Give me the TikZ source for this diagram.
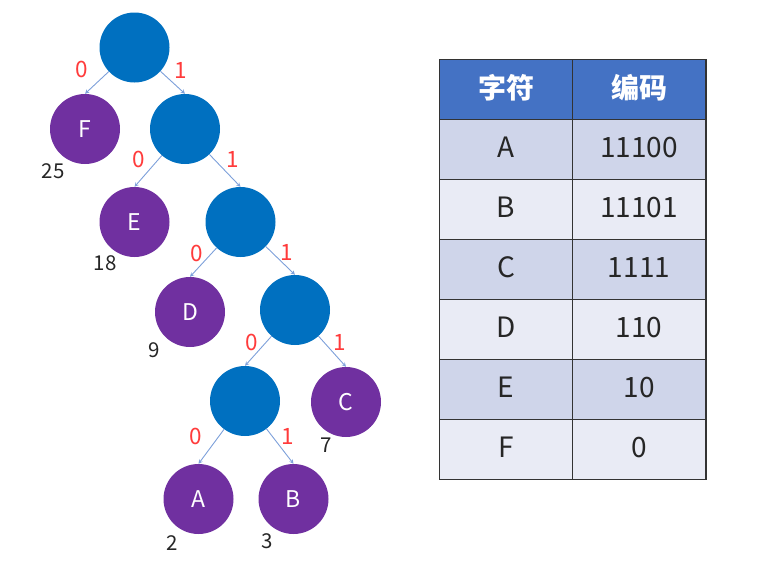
\documentclass[tikz,border=0pt]{standalone}
\usepackage{fontspec}
\setmainfont{Noto Sans CJK SC}
\usepackage{tikz}

\definecolor{nodeblue}{HTML}{0070C0}
\definecolor{leafpurple}{HTML}{7030A0}
\definecolor{edgeblue}{HTML}{7DA0DA}
\definecolor{bitred}{HTML}{FF3B3B}
\definecolor{weightgray}{HTML}{262626}
\definecolor{headblue}{HTML}{4472C4}
\definecolor{rowdark}{HTML}{CFD5EA}
\definecolor{rowlight}{HTML}{E9EBF5}

\begin{document}
\begin{tikzpicture}[x=1pt,y=-1pt,>=stealth,
	inner/.style={circle,fill=nodeblue,minimum size=70pt,inner sep=0pt},
	leaf/.style={circle,fill=leafpurple,minimum size=70pt,inner sep=0pt,text=white,font=\fontsize{23}{23}\selectfont},
	weight/.style={text=weightgray,font=\fontsize{20.5}{20.5}\selectfont},
	bit/.style={text=bitred,font=\fontsize{22.5}{22.5}\selectfont},
	edge/.style={->,draw=edgeblue,line width=0.9pt},
	cell/.style={text=weightgray,font=\fontsize{28}{28}\selectfont}]
	\useasboundingbox (0,0) rectangle (771,570);

	% huffman tree
	\node[inner] (root) at (134.5,47.5) {};
	\node[leaf] (F) at (85,129) {F};
	\node[inner] (n1) at (185,129) {};
	\node[leaf] (E) at (134.5,222) {E};
	\node[inner] (n2) at (240.5,222) {};
	\node[leaf] (D) at (190,312) {D};
	\node[inner] (n3) at (295,310) {};
	\node[inner] (n4) at (245,401) {};
	\node[leaf] (C) at (346,402) {C};
	\node[leaf] (A) at (198.5,499) {A};
	\node[leaf] (B) at (293.5,499) {B};

	% branches
	\draw[edge] (root) -- (F.north);
	\draw[edge] (root) -- (n1.north);
	\draw[edge] (n1) -- (E.north);
	\draw[edge] (n1) -- (n2.north);
	\draw[edge] (n2) -- (D.north);
	\draw[edge] (n2) -- (n3.north);
	\draw[edge] (n3) -- (n4.north);
	\draw[edge] (n3) -- (C.north);
	\draw[edge] (n4) -- (A.north);
	\draw[edge] (n4) -- (B.north);

	% bits on the branches
	\node[bit] (b0a) at (82,69) {0};
	\node[bit] (b1a) at (181,70) {1};
	\node[bit] (b0b) at (139,159) {0};
	\node[bit] (b1b) at (233,159) {1};
	\node[bit] (b0c) at (197,253) {0};
	\node[bit] (b1c) at (287,252) {1};
	\node[bit] (b0d) at (252,342) {0};
	\node[bit] (b1d) at (340,342) {1};
	\node[bit] (b0e) at (196,436) {0};
	\node[bit] (b1e) at (288,436) {1};

	% weights
	\node[weight] (wF) at (53,171) {25};
	\node[weight] (wE) at (105,263) {18};
	\node[weight] (wD) at (154,350) {9};
	\node[weight] (wC) at (326,445) {7};
	\node[weight] (wA) at (172,543) {2};
	\node[weight] (wB) at (267,541) {3};

	% code table
	\fill[headblue] (439.5,59.5) rectangle (706,119.5);
	\node[text=white,font=\fontsize{28}{28}\selectfont\bfseries] (hsym) at (506,88) {字符};
	\node[text=white,font=\fontsize{28}{28}\selectfont\bfseries] (hcode) at (639,88) {编码};
	\foreach \sym/\code [count=\i] in {A/11100,B/11101,C/1111,D/110,E/10,F/0} {
		\ifodd\i \def\rowcol{rowdark}\else \def\rowcol{rowlight}\fi
		\fill[\rowcol] (439.5,59.5+60*\i) rectangle (706,119.5+60*\i);
		\node[cell] (sym\i) at (506,87.5+60*\i) {\sym};
		\node[cell] (code\i) at (639,87.5+60*\i) {\code};
	}
	\foreach \i in {1,...,6}
		\draw[line width=1.2pt,draw=black!80] (439.5,59.5+60*\i) -- (706,59.5+60*\i);
	\draw[line width=1.2pt,draw=black!80] (439.5,59.5) rectangle (706,479.5);
	\draw[line width=1.2pt,draw=black!80] (572.7,59.5) -- (572.7,479.5);

\end{tikzpicture}
\end{document}
